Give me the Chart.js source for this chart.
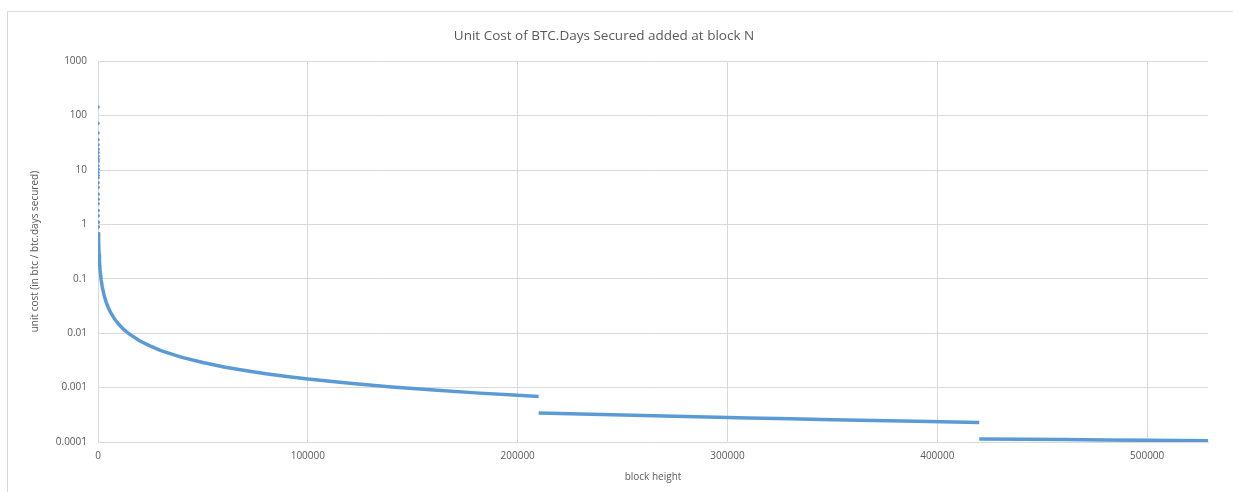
<!DOCTYPE html>
<html>
<head>
<meta charset="utf-8">
<script src="https://cdn.jsdelivr.net/npm/chart.js@4/dist/chart.umd.min.js"></script>
<style>
  body { margin: 0; background: #fff; }
  #wrap { position: relative; width: 1233px; height: 492px; overflow: hidden; }
  #frame { position: absolute; left: 7px; top: 11px; width: 1300px; height: 600px;
           border-left: 1px solid #d9d9d9; border-top: 1px solid #d9d9d9; pointer-events: none; }
</style>
</head>
<body>
<div id="wrap">
  <canvas id="costChart" width="1233" height="492"></canvas>
  <div id="frame"></div>
</div>
<script>
// first blocks, drawn as separate dots
const earlyHeights = [1, 2, 3, 4, 5, 6, 7, 8, 9, 10, 12, 14, 16, 18, 20, 25, 30, 40, 50, 60, 80, 100, 130, 160];
const earlyCosts = [144, 72, 48, 36, 29, 24, 21, 18, 16, 14.4, 12, 10.3, 9, 8, 7.2, 5.8, 4.8, 3.6, 2.9, 2.4, 1.8, 1.44, 1.1, 0.9];

// rest of the curve (null = break at each halving)
const blockHeights = [
  200, 300, 500, 700, 1000, 1500, 2000, 3000, 4000, 5000, 6000, 8000, 10000, 12500, 15000,
  20000, 25000, 30000, 40000, 50000, 60000, 70000, 80000, 90000, 100000, 120000, 140000,
  160000, 180000, 200000, 209999,
  209999.5,
  210000, 230000, 250000, 270000, 290000, 310000, 330000, 350000, 370000, 390000, 419999,
  419999.5,
  420000, 440000, 460000, 480000, 500000, 529000
];
const unitCosts = [
  0.72, 0.48, 0.29, 0.21, 0.144, 0.096, 0.072, 0.048, 0.036, 0.029, 0.024, 0.018, 0.0144, 0.0115, 0.0096,
  0.0072, 0.0058, 0.0048, 0.0036, 0.0029, 0.0024, 0.00206, 0.0018, 0.0016, 0.00144, 0.0012, 0.00103,
  0.0009, 0.0008, 0.00072, 0.000686,
  null,
  0.000343, 0.000327, 0.000313, 0.0003, 0.000288, 0.000277, 0.000267, 0.000257, 0.000248, 0.00024, 0.000229,
  null,
  0.000114, 0.0001125, 0.000111, 0.000109, 0.0001075, 0.000105
];

const xTicks = [0, 100000, 200000, 300000, 400000, 500000];
const yTicks = [0.0001, 0.001, 0.01, 0.1, 1, 10, 100, 1000];

const blue = '#5b9bd5';
const textGray = '#595959';
const gridGray = '#d9d9d9';
const font = 'Open Sans, Liberation Sans, sans-serif';

const ctx = document.getElementById('costChart').getContext('2d');
new Chart(ctx, {
    type: 'scatter',
    data: {
        datasets: [
            {
                data: earlyHeights.map((x, i) => ({ x: x, y: earlyCosts[i] })),
                backgroundColor: blue,
                borderColor: blue,
                pointRadius: 1.8,
                pointBorderWidth: 0,
                showLine: false
            },
            {
                data: blockHeights.map((x, i) => ({ x: x, y: unitCosts[i] })),
                borderColor: blue,
                backgroundColor: blue,
                borderWidth: 3.5,
                pointRadius: 0,
                showLine: true,
                spanGaps: false
            }
        ]
    },
    options: {
        responsive: false,
        animation: false,
        layout: { padding: { left: 0, right: 25, top: 0, bottom: 0 } },
        scales: {
            x: {
                type: 'linear',
                min: 0,
                max: 529000,
                afterBuildTicks: s => { s.ticks = xTicks.map(v => ({ value: v })); },
                afterFit: s => { s.height = 50; },
                grid: { color: gridGray, drawTicks: false },
                border: { color: gridGray },
                ticks: { color: textGray, font: { family: font, size: 10 }, padding: 8, maxRotation: 0,
                         callback: v => String(v) },
                title: { display: true, text: 'block height', color: textGray,
                         font: { family: font, size: 10 }, padding: { top: 0, bottom: 9 } }
            },
            y: {
                type: 'logarithmic',
                min: 0.0001,
                max: 1000,
                afterBuildTicks: s => { s.ticks = yTicks.map(v => ({ value: v })); },
                afterFit: s => { s.width = 98; },
                grid: { color: gridGray, drawTicks: false },
                border: { color: gridGray },
                ticks: { color: textGray, font: { family: font, size: 10 }, padding: 11,
                         callback: v => String(v) },
                title: { display: true, text: 'unit cost (in btc / btc.days secured)', color: textGray,
                         font: { family: font, size: 10 }, padding: { top: 29, bottom: 0 } }
            }
        },
        plugins: {
            legend: { display: false },
            tooltip: { enabled: false },
            title: {
                display: true,
                text: 'Unit Cost of BTC.Days Secured added at block N',
                color: textGray,
                font: { family: font, size: 13.5, weight: 'normal' },
                padding: { top: 28, bottom: 17 }
            }
        }
    }
});
</script>
</body>
</html>
